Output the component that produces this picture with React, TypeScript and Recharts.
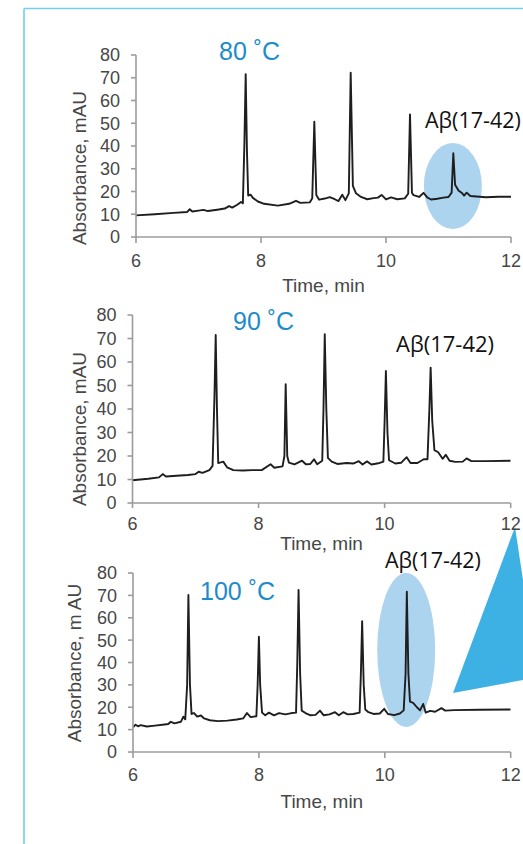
import { LineChart, Line, XAxis, YAxis, ReferenceDot } from "recharts";

// Retention time (min) and absorbance (mAU) traces, one pair per column temperature
const time80 = [
  6.0, 6.3, 6.6, 6.82, 6.86, 6.9, 7.0, 7.08, 7.15, 7.3, 7.42, 7.49, 7.54, 7.62, 7.68, 7.71,
  7.735, 7.755, 7.775, 7.795, 7.835, 7.87, 7.95, 8.05, 8.27, 8.45, 8.56, 8.63, 8.78, 8.82,
  8.853, 8.885, 8.93, 9.02, 9.1, 9.18, 9.24, 9.3, 9.35, 9.405, 9.435, 9.47, 9.52, 9.6, 9.7,
  9.8, 9.87, 9.93, 10.0, 10.08, 10.18, 10.3, 10.355, 10.384, 10.415, 10.44, 10.53, 10.6,
  10.66, 10.72, 10.82, 10.92, 11.0, 11.05, 11.077, 11.105, 11.16, 11.22, 11.25, 11.29,
  11.35, 11.45, 11.6, 11.8, 12.0,
];
const abs80 = [
  9.5, 10.0, 10.6, 11.0, 12.2, 11.2, 11.6, 11.9, 11.4, 12.0, 12.5, 13.6, 12.9, 14.2, 15.4, 14.8,
  42, 71.6, 38, 18.2, 18.6, 17.2, 15.6, 14.6, 13.8, 14.6, 15.9, 15.0, 15.2, 17.0,
  50.7, 18.5, 16.4, 16.9, 17.5, 16.6, 15.8, 18.6, 16.2, 19.2, 72.2, 22.5, 19.2, 17.6, 16.6,
  17.1, 17.3, 18.5, 16.5, 17.4, 16.6, 17.0, 19.0, 53.9, 19.5, 18.4, 17.6, 19.4,
  17.4, 16.5, 16.8, 17.3, 17.6, 19.5, 36.8, 23.0, 20.4, 19.2, 18.2, 19.5,
  18.0, 17.8, 17.5, 17.7, 17.7,
];

const time90 = [
  6.0, 6.25, 6.42, 6.48, 6.53, 6.7, 6.88, 7.0, 7.05, 7.11, 7.22, 7.27, 7.3, 7.32, 7.34, 7.36,
  7.44, 7.5, 7.6, 7.75, 7.9, 8.05, 8.19, 8.25, 8.38, 8.41, 8.43, 8.455, 8.48, 8.57, 8.69,
  8.75, 8.82, 8.88, 8.93, 9.01, 9.03, 9.05, 9.075, 9.1, 9.16, 9.25, 9.4, 9.5, 9.59, 9.65,
  9.72, 9.79, 9.9, 9.98, 10.0, 10.02, 10.045, 10.07, 10.17, 10.26, 10.35, 10.41, 10.52,
  10.62, 10.68, 10.71, 10.73, 10.755, 10.79, 10.85, 10.92, 10.97, 11.03, 11.12, 11.24,
  11.3, 11.37, 11.6, 12.0,
];
const abs90 = [
  9.7, 10.3, 10.9, 12.3, 11.3, 11.6, 11.9, 12.3, 13.3, 12.8, 14.0, 15.8, 45, 71.5, 40, 17.0,
  17.6, 15.2, 14.0, 13.8, 14.0, 14.0, 16.5, 15.0, 15.6, 20, 50.6, 20, 17.2, 16.4, 18.0,
  16.5, 16.6, 18.6, 16.5, 18.0, 40, 71.8, 40, 19.2, 17.6, 16.6, 17.0, 16.8, 17.8, 16.4,
  17.7, 16.4, 16.9, 17.6, 35, 56.2, 30, 18.2, 16.8, 17.1, 19.5, 17.0, 17.0,
  18.6, 18.6, 40, 57.6, 35, 22.5, 21.6, 18.8, 20.5, 18.0, 17.5, 17.6,
  19.0, 17.9, 17.8, 18.0,
];

const time100 = [
  6.0, 6.04, 6.08, 6.12, 6.22, 6.35, 6.5, 6.56, 6.6, 6.66, 6.76, 6.8, 6.83, 6.86, 6.88, 6.905,
  6.93, 6.97, 7.02, 7.08, 7.13, 7.22, 7.35, 7.5, 7.65, 7.75, 7.81, 7.87, 7.96, 7.98, 8.0,
  8.02, 8.05, 8.1, 8.16, 8.24, 8.32, 8.42, 8.52, 8.59, 8.61, 8.63, 8.655, 8.68, 8.74, 8.82,
  8.9, 8.97, 9.03, 9.12, 9.21, 9.27, 9.34, 9.41, 9.5, 9.6, 9.62, 9.64, 9.665, 9.69, 9.74,
  9.82, 9.92, 9.99, 10.05, 10.15, 10.24, 10.3, 10.33, 10.35, 10.375, 10.4, 10.45, 10.51,
  10.56, 10.61, 10.65, 10.72, 10.8, 10.9, 10.96, 11.1, 11.5, 12.0,
];
const abs100 = [
  11.0, 12.2, 11.5, 12.0, 11.4, 11.8, 12.3, 12.5, 13.5, 12.8, 13.5, 15.8, 14.6, 30, 70.2, 30,
  17.0, 17.4, 15.8, 16.3, 15.0, 14.2, 13.8, 14.0, 14.5, 15.0, 17.4, 15.6, 16.0, 30, 51.5,
  30, 17.6, 16.4, 17.6, 16.4, 17.4, 16.8, 17.4, 17.6, 40, 72.4, 35, 18.5, 17.4, 16.4,
  16.6, 18.5, 16.4, 16.8, 17.8, 16.4, 17.8, 16.8, 17.0, 17.6, 35, 58.5, 30, 19.0, 17.8,
  17.0, 17.2, 19.3, 17.0, 16.5, 17.2, 18.6, 35, 71.6, 35, 22.5, 22.0, 20.0,
  18.6, 21.5, 17.6, 18.4, 18.0, 19.6, 18.5, 18.7, 18.9, 19.0,
];

const timeTicks = [6, 8, 10, 12];
const absTicks = [0, 10, 20, 30, 40, 50, 60, 70, 80];
const tempLabels = ["80 ˚C", "90 ˚C", "100 ˚C"];
const yTitles = ["Absorbance, mAU", "Absorbance, mAU", "Absorbance, m AU"];
const xTitle = "Time, min";
const peakName = "Aβ(17-42)";
// centre of the highlighted Aβ peak region (time, mAU)
const mark80 = [11.07, 22.4];
const mark100 = [10.34, 45.6];

const W = 523;
const AXIS_FONT = "'Liberation Sans', Arial, Helvetica, sans-serif";
const AXIS_GREY = "#9c9c9c";
const TEXT_GREY = "#474747";
const Y_AXIS_W = 70;
const X_AXIS_H = 60;

type Layout = {
  top: number;
  plotLeft: number;
  plotRight: number;
  plotTop: number;
  plotBottom: number;
  xTickSize: number;
  xTickMargin: number;
  yTitleX: number;
  yTitleY: number;
  xTitleY: number;
  tempX: number;
  tempY: number;
  peakX: number;
  peakY: number;
  peakSize: number;
};

type Highlight = { at: number[]; rx: number; ry: number };

function Chromatogram({
  times,
  values,
  layout,
  temp,
  yTitle,
  highlight,
}: {
  times: number[];
  values: number[];
  layout: Layout;
  temp: string;
  yTitle: string;
  highlight?: Highlight;
}) {
  const data = times.map((t, i) => ({ t, v: values[i] }));
  const L = layout;
  const height = L.plotBottom - L.top + X_AXIS_H;
  const oy = L.top; // chart-local y offset
  const xMid = (L.plotLeft + L.plotRight) / 2;

  return (
    <div style={{ position: "absolute", left: 0, top: L.top, width: W, height }}>
      <LineChart
        width={W}
        height={height}
        data={data}
        margin={{
          top: L.plotTop - L.top,
          right: W - L.plotRight,
          bottom: 0,
          left: L.plotLeft - Y_AXIS_W,
        }}
      >
        <XAxis
          dataKey="t"
          type="number"
          domain={[6, 12]}
          ticks={timeTicks}
          interval={0}
          allowDataOverflow
          height={X_AXIS_H}
          tickSize={L.xTickSize}
          tickMargin={L.xTickMargin}
          stroke={AXIS_GREY}
          strokeWidth={1.6}
          tickLine={{ stroke: AXIS_GREY, strokeWidth: 1.6 }}
          tick={{ fill: TEXT_GREY, fontSize: 18, fontFamily: AXIS_FONT }}
        />
        <YAxis
          type="number"
          domain={[0, 80]}
          ticks={absTicks}
          interval={0}
          allowDataOverflow
          width={Y_AXIS_W}
          tickSize={5}
          tickMargin={11}
          stroke={AXIS_GREY}
          strokeWidth={1.6}
          tickLine={{ stroke: AXIS_GREY, strokeWidth: 1.6 }}
          tick={{ fill: TEXT_GREY, fontSize: 18, fontFamily: AXIS_FONT }}
        />
        {highlight && (
          <ReferenceDot
            x={highlight.at[0]}
            y={highlight.at[1]}
            r={0}
            zIndex={50}
            isFront={false}
            shape={(p: any) => (
              <ellipse cx={p.cx} cy={p.cy} rx={highlight.rx} ry={highlight.ry} fill="#acd4ee" />
            )}
          />
        )}
        <Line
          dataKey="v"
          type="linear"
          stroke="#1e1e1e"
          strokeWidth={1.9}
          strokeLinejoin="round"
          dot={false}
          activeDot={false}
          isAnimationActive={false}
        />
        <text
          x={L.yTitleX}
          y={L.yTitleY - oy}
          transform={`rotate(-90 ${L.yTitleX} ${L.yTitleY - oy})`}
          textAnchor="middle"
          fill={TEXT_GREY}
          fontSize={19}
          fontFamily={AXIS_FONT}
        >
          {yTitle}
        </text>
        <text
          x={xMid}
          y={L.xTitleY - oy}
          textAnchor="middle"
          fill={TEXT_GREY}
          fontSize={19}
          fontFamily={AXIS_FONT}
        >
          {xTitle}
        </text>
        <text x={L.tempX} y={L.tempY - oy} fill="#1d8ccb" fontSize={25} fontFamily={AXIS_FONT}>
          {temp}
        </text>
        <text
          x={L.peakX}
          y={L.peakY - oy}
          fill="#111"
          fontSize={L.peakSize}
          fontFamily="'Open Sans', 'Noto Sans', sans-serif"
        >
          {peakName}
        </text>
      </LineChart>
    </div>
  );
}

const layouts: Layout[] = [
  {
    top: 0, plotLeft: 136, plotRight: 511, plotTop: 55, plotBottom: 237,
    xTickSize: 6, xTickMargin: 11, yTitleX: 86, yTitleY: 168, xTitleY: 291.5,
    tempX: 219, tempY: 60, peakX: 425, peakY: 128, peakSize: 21.5,
  },
  {
    top: 290, plotLeft: 132.5, plotRight: 510.7, plotTop: 315, plotBottom: 503,
    xTickSize: 5, xTickMargin: 9, yTitleX: 85.5, yTitleY: 429, xTitleY: 550,
    tempX: 233, tempY: 330, peakX: 396, peakY: 351.5, peakSize: 22,
  },
  {
    top: 545, plotLeft: 133, plotRight: 510.7, plotTop: 573, plotBottom: 752,
    xTickSize: 6, xTickMargin: 10.5, yTitleX: 81, yTitleY: 663, xTitleY: 808,
    tempX: 200, tempY: 600, peakX: 385, peakY: 568, peakSize: 21.5,
  },
];

export default function App() {
  return (
    <div style={{ position: "absolute", left: 0, top: 0, width: W, height: 844, background: "#fff", overflow: "hidden" }}>
      <svg width={W} height={844} style={{ position: "absolute", left: 0, top: 0 }}>
        <line x1={24} y1={8.5} x2={W} y2={8.5} stroke="#74cdf3" strokeWidth={1.6} />
        <line x1={24} y1={8.5} x2={24} y2={844} stroke="#74cdf3" strokeWidth={1.6} />
        <polygon points="515,527 523,580 523,680 453,693" fill="#3db1e3" />
      </svg>
      <Chromatogram
        times={time80}
        values={abs80}
        layout={layouts[0]}
        temp={tempLabels[0]}
        yTitle={yTitles[0]}
        highlight={{ at: mark80, rx: 29, ry: 43 }}
      />
      <Chromatogram times={time90} values={abs90} layout={layouts[1]} temp={tempLabels[1]} yTitle={yTitles[1]} />
      <Chromatogram
        times={time100}
        values={abs100}
        layout={layouts[2]}
        temp={tempLabels[2]}
        yTitle={yTitles[2]}
        highlight={{ at: mark100, rx: 29, ry: 77 }}
      />
    </div>
  );
}
